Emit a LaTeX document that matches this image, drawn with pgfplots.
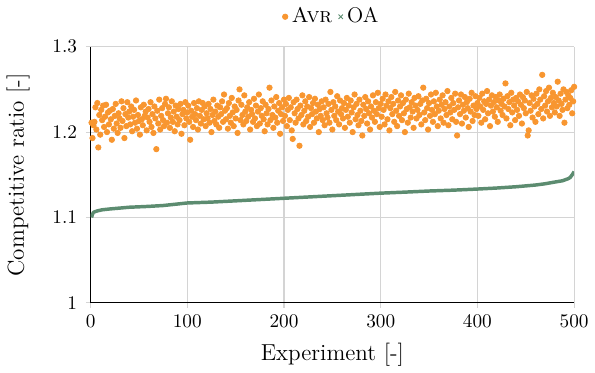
\documentclass[border=0pt]{standalone}
\usepackage{pgfplots}
\usepackage{pgfplotstable}
\pgfplotsset{compat=1.18}
\definecolor{avrorange}{RGB}{248,150,48}
\definecolor{oagreen}{RGB}{92,140,112}
\definecolor{gridgray}{RGB}{212,212,212}

\pgfplotstableread{
y
1.211
1.193
1.208
1.212
1.229
1.203
1.234
1.182
1.220
1.197
1.226
1.214
1.231
1.206
1.218
1.232
1.200
1.223
1.209
1.225
1.215
1.191
1.227
1.204
1.219
1.233
1.210
1.199
1.222
1.216
1.205
1.236
1.213
1.228
1.193
1.221
1.207
1.235
1.217
1.224
1.209
1.230
1.201
1.218
1.226
1.211
1.237
1.204
1.220
1.213
1.197
1.229
1.215
1.208
1.232
1.219
1.224
1.202
1.217
1.227
1.212
1.235
1.206
1.221
1.199
1.230
1.216
1.180
1.225
1.210
1.238
1.203
1.219
1.228
1.214
1.207
1.233
1.239
1.211
1.222
1.229
1.205
1.217
1.236
1.212
1.224
1.201
1.231
1.218
1.209
1.227
1.214
1.233
1.198
1.221
1.226
1.208
1.235
1.216
1.223
1.231
1.212
1.191
1.225
1.218
1.206
1.234
1.221
1.214
1.228
1.203
1.236
1.219
1.210
1.226
1.234
1.215
1.230
1.207
1.222
1.216
1.233
1.211
1.227
1.200
1.220
1.238
1.213
1.224
1.209
1.231
1.218
1.205
1.229
1.221
1.236
1.212
1.244
1.225
1.215
1.228
1.204
1.234
1.219
1.211
1.240
1.223
1.207
1.230
1.216
1.226
1.199
1.237
1.250
1.214
1.232
1.220
1.209
1.243
1.224
1.213
1.229
1.218
1.235
1.203
1.226
1.221
1.212
1.239
1.216
1.231
1.207
1.224
1.244
1.210
1.228
1.219
1.236
1.215
1.201
1.232
1.222
1.209
1.227
1.252
1.214
1.237
1.220
1.205
1.230
1.217
1.241
1.211
1.225
1.234
1.198
1.221
1.229
1.213
1.238
1.219
1.233
1.207
1.226
1.240
1.214
1.229
1.202
1.192
1.235
1.222
1.211
1.238
1.227
1.216
1.184
1.231
1.220
1.243
1.209
1.225
1.236
1.213
1.230
1.218
1.241
1.206
1.228
1.221
1.234
1.211
1.239
1.224
1.216
1.232
1.200
1.227
1.219
1.236
1.214
1.229
1.208
1.238
1.222
1.217
1.233
1.211
1.247
1.226
1.203
1.235
1.219
1.230
1.214
1.242
1.224
1.209
1.237
1.221
1.228
1.216
1.234
1.205
1.226
1.240
1.218
1.231
1.211
1.237
1.223
1.200
1.229
1.244
1.215
1.233
1.220
1.208
1.238
1.225
1.213
1.196
1.232
1.219
1.241
1.227
1.210
1.236
1.222
1.203
1.230
1.217
1.243
1.225
1.212
1.235
1.221
1.246
1.228
1.206
1.233
1.218
1.239
1.226
1.209
1.244
1.231
1.215
1.236
1.202
1.228
1.241
1.221
1.233
1.212
1.247
1.225
1.207
1.237
1.219
1.230
1.243
1.214
1.234
1.222
1.200
1.238
1.227
1.211
1.245
1.229
1.217
1.235
1.224
1.205
1.240
1.231
1.216
1.226
1.242
1.220
1.233
1.209
1.237
1.252
1.223
1.214
1.239
1.228
1.203
1.234
1.219
1.244
1.226
1.212
1.236
1.221
1.246
1.230
1.207
1.225
1.238
1.216
1.232
1.243
1.211
1.227
1.235
1.220
1.248
1.208
1.230
1.223
1.240
1.215
1.234
1.226
1.245
1.212
1.196
1.229
1.237
1.221
1.244
1.210
1.232
1.225
1.241
1.217
1.235
1.228
1.206
1.239
1.224
1.246
1.213
1.231
1.220
1.242
1.227
1.234
1.219
1.240
1.230
1.211
1.245
1.226
1.236
1.215
1.233
1.248
1.222
1.238
1.207
1.231
1.243
1.224
1.235
1.218
1.241
1.229
1.212
1.237
1.244
1.225
1.233
1.220
1.239
1.230
1.257
1.216
1.242
1.227
1.235
1.208
1.246
1.223
1.238
1.231
1.214
1.240
1.226
1.236
1.219
1.244
1.232
1.210
1.241
1.228
1.237
1.222
1.247
1.196
1.202
1.234
1.225
1.243
1.217
1.239
1.230
1.212
1.245
1.233
1.221
1.250
1.238
1.227
1.267
1.216
1.242
1.231
1.248
1.224
1.236
1.252
1.219
1.240
1.229
1.246
1.234
1.223
1.241
1.230
1.259
1.237
1.219
1.245
1.233
1.226
1.250
1.211
1.238
1.247
1.228
1.243
1.232
1.240
1.249
1.222
1.236
1.253
}\avrdata

\pgfplotstableread{
x y
1 1.100
2 1.104
3 1.106
5 1.107
8 1.108
12 1.109
20 1.110
30 1.111
40 1.112
50 1.1125
60 1.113
75 1.114
100 1.117
125 1.118
150 1.1195
175 1.121
200 1.1225
225 1.124
250 1.1255
275 1.127
300 1.1285
325 1.1297
350 1.131
375 1.132
400 1.1333
420 1.1345
440 1.136
460 1.138
470 1.1395
480 1.1415
488 1.143
494 1.1455
496 1.147
498 1.150
500 1.1537
}\oadata

\begin{document}
\begin{tikzpicture}
\begin{axis}[
  scale only axis,
  width=251pt, height=133pt,
  xmin=0, xmax=500, ymin=1, ymax=1.3,
  xtick={0,100,...,500},
  ytick={1,1.1,1.2,1.3},
  yticklabels={1,1.1,1.2,1.3},
  axis x line*=bottom,
  axis y line*=left,
  axis line style={-, black, line width=0.6pt},
  tick align=outside,
  major tick length=2.5pt,
  tick style={gridgray, line width=0.6pt},
  grid=major,
  major grid style={gridgray, line width=0.6pt},
  yticklabel style={xshift=-1pt},
  xticklabel style={yshift=-0.5pt},
  xlabel={\large Experiment [-]},
  ylabel={\large Competitive ratio [-]},
  ylabel style={yshift=5pt},
  xlabel style={yshift=-1pt},
  legend style={at={(0.5,1.05)}, anchor=south, draw=none, fill=none,
    legend columns=-1, font=\fontsize{11}{13}\selectfont,
    /tikz/every even column/.append style={column sep=1pt}},
  legend cell align=left,
]
\addplot[only marks, mark=*, mark size=1.4pt, color=avrorange,
  mark options={draw=none, fill=avrorange}]
  table[x expr=\coordindex+1, y=y] {\avrdata};
\addlegendentry{\textsc{Avr}}
\addplot[color=oagreen, line width=1.8pt, line join=round,
  legend image code/.code={\draw[oagreen, line width=0.5pt] (0.2cm,-0.04cm) -- (0.28cm,0.04cm) (0.2cm,0.04cm) -- (0.28cm,-0.04cm);}]
  table[x=x, y=y] {\oadata};
\addlegendentry{OA}
\end{axis}
\end{tikzpicture}
\end{document}
